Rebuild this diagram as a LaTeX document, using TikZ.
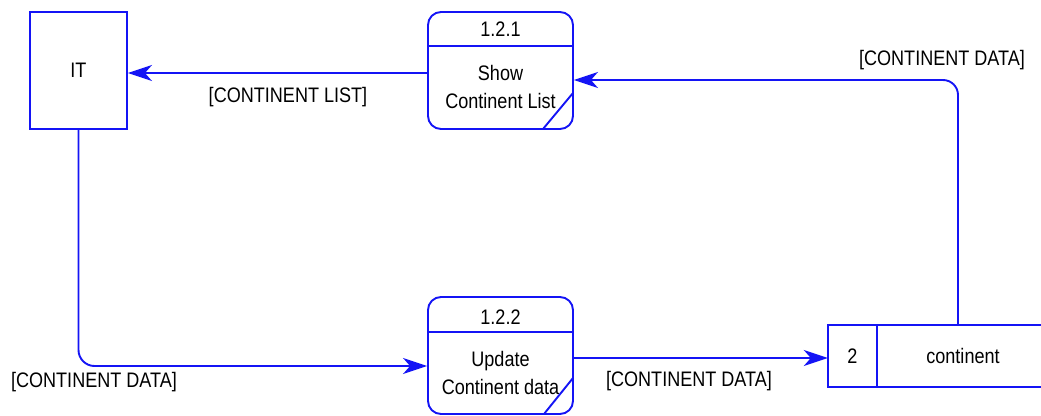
\documentclass[tikz,border=0pt]{standalone}
\usepackage{fontspec}
\setmainfont{Liberation Sans}
\newfontfamily\labfont[FakeStretch=0.86]{Liberation Sans}
\usetikzlibrary{arrows.meta,calc}
\definecolor{dfdblue}{RGB}{20,20,245}
\tikzset{
  lbl/.style={font=\labfont\fontsize{21}{24}\selectfont, text=black, inner sep=0pt},
  entity/.style={draw=dfdblue, line width=1.9pt, fill=white, minimum width=97pt, minimum height=117pt, inner sep=0pt, lbl},
  procbox/.style={draw=dfdblue, line width=1.9pt, fill=white, rounded corners=13pt, minimum width=145pt, minimum height=117pt, inner sep=0pt},
  flow/.style={draw=dfdblue, line width=1.9pt, -{Stealth[length=24pt,width=16pt,inset=7pt]}},
  part/.style={draw=dfdblue, line width=1.9pt},
}
\begin{document}
\begin{tikzpicture}[x=1pt,y=-1pt]
\useasboundingbox (0,0) rectangle (1041,415);
% external entity
\node[entity] (it) at (78.5,70.5) {IT};
% process 1.2.1
\node[procbox] (p1) at (500.5,70.5) {};
\draw[part] (p1.west |- 0,46) -- (p1.east |- 0,46);
\draw[part] (543,129) -- (573,93);
\node[lbl] (p1id) at (500.5,29) {1.2.1};
\node[lbl, align=center] (p1txt) at (500.5,87) {Show\\[4pt]Continent List};
% process 1.2.2
\node[procbox] (p2) at (500.5,355.5) {};
\draw[part] (p2.west |- 0,332) -- (p2.east |- 0,332);
\draw[part] (544,414) -- (573,378);
\node[lbl] (p2id) at (500.5,317) {1.2.2};
\node[lbl, align=center] (p2txt) at (500.5,373) {Update\\[4pt]Continent data};
% data store
\node[inner sep=0pt, minimum width=49pt, minimum height=62pt, lbl] (sid) at (852.5,356) {2};
\node[inner sep=0pt, minimum width=172pt, minimum height=62pt, lbl] (store) at (963,356) {continent};
\draw[part] (sid.north east) -- (sid.south east);
\draw[part] (store.north east) -- (sid.north west) -- (sid.south west) -- (store.south east);
% flows
\draw[flow] (p1.west |- 0,73) -- (it.east |- 0,73);
\node[lbl] (l1) at (288,97) {[CONTINENT LIST]};
\coordinate (stup) at (958,325);
\draw[flow, rounded corners=15pt] (stup) |- (p1.east |- 0,80);
\node[lbl] (l2) at (942,60) {[CONTINENT DATA]};
\draw[flow, rounded corners=16pt] (it.south) |- (p2.west |- 0,366);
\node[lbl] (l3) at (94,382) {[CONTINENT DATA]};
\draw[flow] (p2.east |- 0,358) -- (sid.west |- 0,358);
\node[lbl] (l4) at (689,381) {[CONTINENT DATA]};
\end{tikzpicture}
\end{document}
